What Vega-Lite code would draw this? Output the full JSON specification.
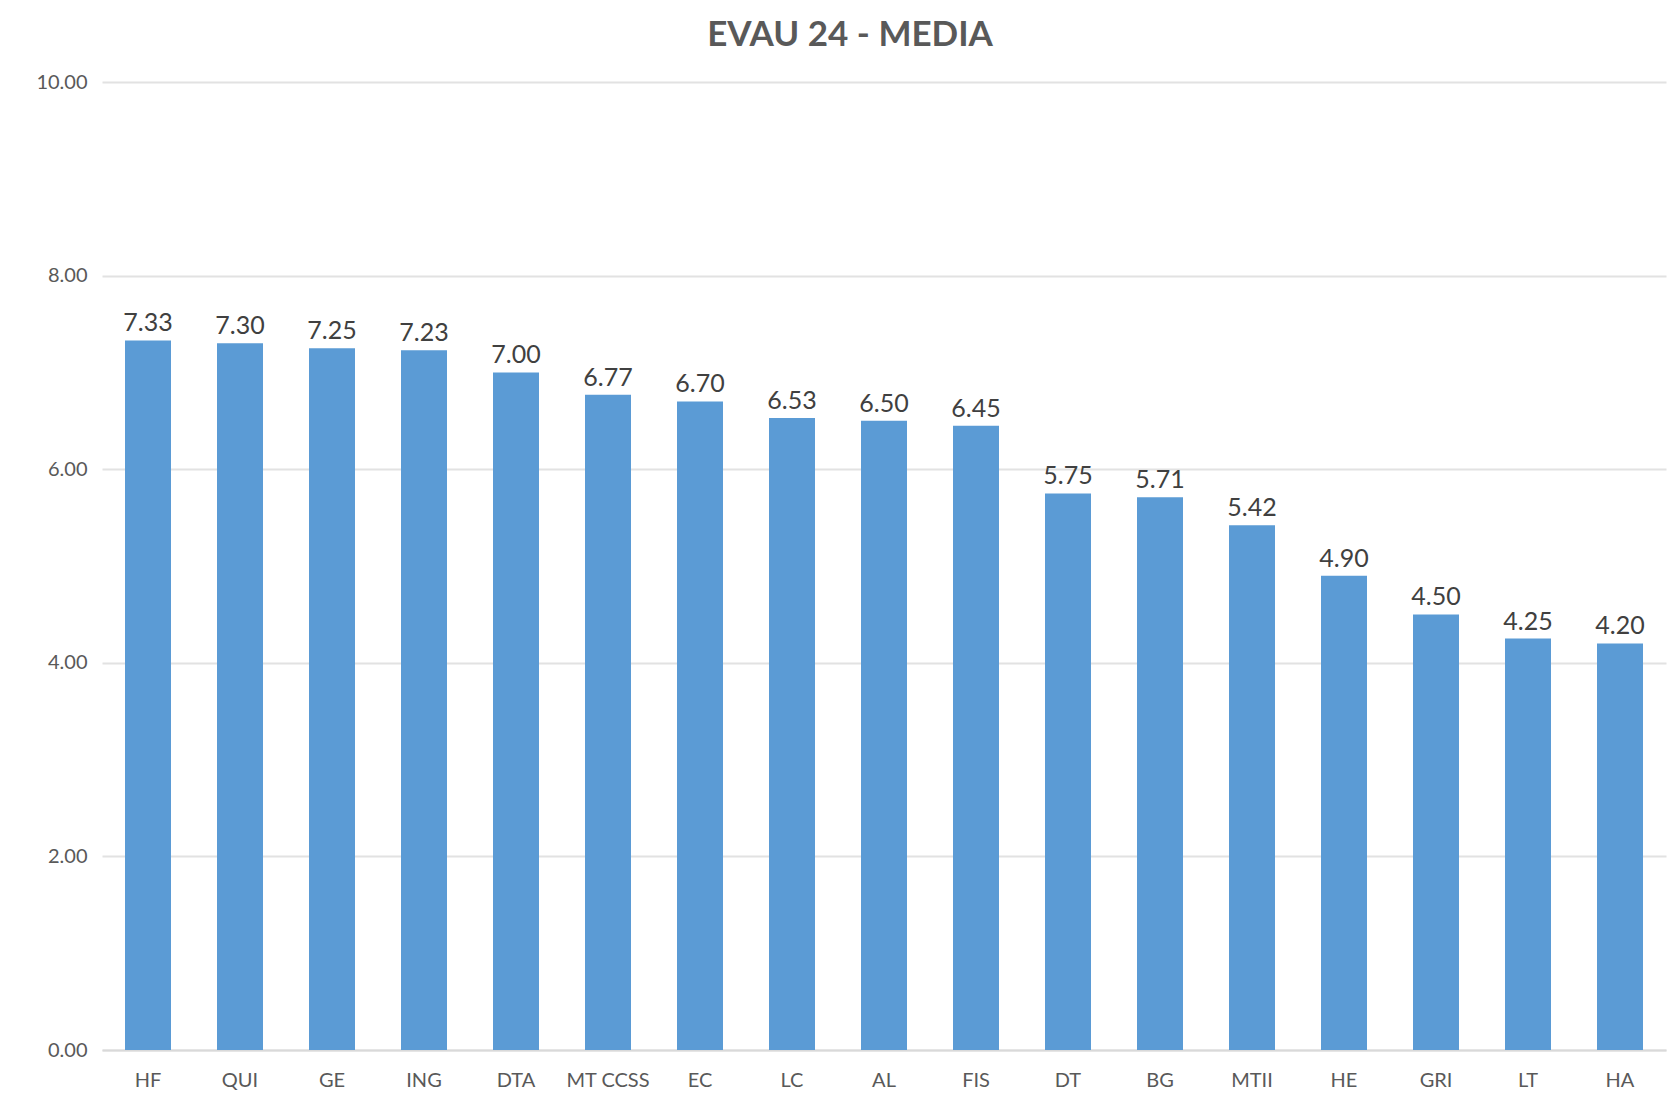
{
  "$schema": "https://vega.github.io/schema/vega-lite/v6.json",
  "autosize": {"type": "none"},
  "width": 1564,
  "height": 968,
  "padding": {"left": 102, "top": 82, "right": 10, "bottom": 65},
  "background": "white",
  "title": {
    "text": "EVAU 24 - MEDIA",
    "font": "Lato",
    "fontSize": 35,
    "fontWeight": "bold",
    "color": "#595959",
    "anchor": "middle",
    "dx": -34,
    "offset": 19
  },
  "config": {
    "view": {"stroke": null},
    "font": "Lato"
  },
  "data": {
    "values": [
      {"asignatura": "HF", "media": 7.33},
      {"asignatura": "QUI", "media": 7.30},
      {"asignatura": "GE", "media": 7.25},
      {"asignatura": "ING", "media": 7.23},
      {"asignatura": "DTA", "media": 7.00},
      {"asignatura": "MT CCSS", "media": 6.77},
      {"asignatura": "EC", "media": 6.70},
      {"asignatura": "LC", "media": 6.53},
      {"asignatura": "AL", "media": 6.50},
      {"asignatura": "FIS", "media": 6.45},
      {"asignatura": "DT", "media": 5.75},
      {"asignatura": "BG", "media": 5.71},
      {"asignatura": "MTII", "media": 5.42},
      {"asignatura": "HE", "media": 4.90},
      {"asignatura": "GRI", "media": 4.50},
      {"asignatura": "LT", "media": 4.25},
      {"asignatura": "HA", "media": 4.20}
    ]
  },
  "encoding": {
    "x": {
      "field": "asignatura",
      "type": "nominal",
      "sort": null,
      "scale": {"paddingInner": 0.5, "paddingOuter": 0.25},
      "axis": {
        "title": null,
        "labelAngle": 0,
        "labelOverlap": false,
        "labelFont": "Lato",
        "labelFontSize": 20,
        "labelColor": "#595959",
        "labelPadding": 20,
        "ticks": false,
        "domainColor": "#d9d9d9",
        "domainWidth": 2,
        "grid": false
      }
    },
    "y": {
      "field": "media",
      "type": "quantitative",
      "scale": {"domain": [0, 10], "nice": false},
      "axis": {
        "title": null,
        "values": [0, 2, 4, 6, 8, 10],
        "format": ".2f",
        "labelFont": "Lato",
        "labelFontSize": 20,
        "labelColor": "#595959",
        "labelPadding": 15,
        "ticks": false,
        "domain": false,
        "grid": true,
        "gridColor": "#e2e2e2",
        "gridWidth": 2
      }
    }
  },
  "layer": [
    {
      "mark": {"type": "bar", "color": "#5b9bd5"}
    },
    {
      "mark": {
        "type": "text",
        "baseline": "alphabetic",
        "dy": -9,
        "font": "Lato",
        "fontSize": 25,
        "color": "#404040"
      },
      "encoding": {
        "text": {"field": "media", "type": "quantitative", "format": ".2f"}
      }
    }
  ]
}
